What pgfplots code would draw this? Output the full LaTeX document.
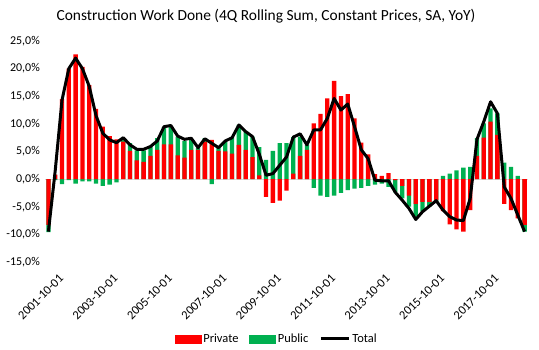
\documentclass[border=0pt]{standalone}
\usepackage{pgfplots}
\usepackage{pgfplotstable}
\pgfplotsset{compat=1.18}
\usepackage{fontspec}
\setmainfont{Carlito}
\definecolor{xred}{HTML}{FF0000}
\definecolor{xgreen}{HTML}{00B050}
\definecolor{xgrid}{HTML}{D9D9D9}
\pgfplotstableread{
i priv pub tot
0 -8.3 -1.3 -9.5
1 0.8 -0.2 1.5
2 14.5 -0.9 14.3
3 20.0 -0.2 20.0
4 22.6 -0.8 21.9
5 20.3 -0.4 20.0
6 17.0 -0.4 16.8
7 12.7 -0.8 11.5
8 9.5 -1.2 8.3
9 7.8 -1.0 7.1
10 7.2 -0.6 6.6
11 6.8 0.6 7.5
12 5.1 1.4 6.2
13 3.4 1.8 5.4
14 3.1 2.1 5.4
15 4.2 1.6 5.9
16 5.3 2.1 6.9
17 6.3 3.1 9.5
18 6.3 3.1 9.7
19 4.3 3.4 7.8
20 3.9 3.0 7.2
21 5.3 1.8 7.4
22 5.3 0.3 5.7
23 6.8 0.6 7.3
24 7.1 -0.9 6.5
25 5.1 0.5 5.7
26 5.0 1.8 6.9
27 4.6 3.0 7.5
28 6.2 3.6 9.8
29 5.3 3.3 8.6
30 4.0 3.7 7.7
31 0.7 5.1 4.5
32 -3.2 3.5 0.7
33 -4.3 5.1 1.0
34 -3.9 6.5 2.5
35 -2.1 6.5 4.0
36 1.0 6.6 7.6
37 4.2 3.5 8.2
38 5.3 0.9 6.2
39 10.1 -1.6 8.9
40 11.8 -3.0 8.9
41 14.6 -3.2 11.0
42 17.8 -3.0 14.6
43 15.0 -2.5 12.5
44 15.4 -2.0 13.6
45 11.0 -1.7 9.5
46 6.6 -1.6 5.3
47 4.5 -1.2 3.7
48 0.9 -1.0 -0.2
49 0.6 -0.8 -0.3
50 1.1 -1.4 -0.3
51 -0.2 -2.2 -2.4
52 -1.2 -2.3 -3.8
53 -3.0 -2.0 -5.3
54 -4.5 -2.3 -7.3
55 -4.1 -1.8 -5.9
56 -4.1 -0.9 -4.9
57 -3.8 -0.3 -3.9
58 -5.8 0.6 -5.6
59 -8.2 1.0 -6.8
60 -9.1 1.6 -7.4
61 -9.5 2.1 -7.5
62 -5.6 2.2 -3.5
63 4.2 3.2 7.2
64 7.5 2.6 10.4
65 10.4 2.4 14.0
66 8.0 3.9 11.9
67 -4.5 3.0 -1.4
68 -5.6 2.2 -3.5
69 -7.1 0.6 -6.5
70 -8.3 -1.2 -9.5
}\data
\begin{document}
\begin{tikzpicture}
\useasboundingbox (0,0) rectangle (539bp,350bp);
\node[font=\fontsize{15.5}{17}\selectfont] at (266bp,334bp) {Construction Work Done (4Q Rolling Sum, Constant Prices, SA, YoY)};
\begin{axis}[
  at={(45bp,88bp)}, anchor=south west,
  scale only axis, width=483bp, height=221bp,
  xmin=-0.5, xmax=70.5, ymin=-15, ymax=25,
  axis line style={draw=none},
  tick style={draw=none},
  ytick={-15,-10,...,25},
  yticklabel={\pgfmathprintnumber[fixed,fixed zerofill,precision=1,use comma]{\tick}\%},
  /pgf/number format/assume math mode=true,
  yticklabel style={font=\fontsize{12}{14}\selectfont, inner sep=0pt, xshift=-5bp},
  xtick={0,8,...,64},
  xticklabels={2001-10-01,2003-10-01,2005-10-01,2007-10-01,2009-10-01,2011-10-01,2013-10-01,2015-10-01,2017-10-01},
  xticklabel style={font=\fontsize{12.5}{14}\selectfont, rotate=45, anchor=north east, inner sep=0pt, yshift=-15bp, xshift=-1bp},
  extra y ticks={0}, extra y tick labels={},
  extra y tick style={grid=major, major grid style={xgrid, line width=0.9bp}},
  legend style={at={(0.48,-0.348)}, anchor=center, draw=none, legend columns=3,
    font=\fontsize{12.5}{14}\selectfont,
    /tikz/every even column/.append style={column sep=9bp},
    legend cell align=left},
]
\addplot[ybar, bar width=4.3bp, bar shift=0pt, fill=xgreen, draw=none, forget plot]
  table[x=i, y expr={ifthenelse(\thisrow{priv}*\thisrow{pub}>0, \thisrow{priv}+\thisrow{pub}, \thisrow{pub})}] {\data};
\addplot[ybar, bar width=4.3bp, bar shift=0pt, fill=xred, draw=none, forget plot]
  table[x=i, y=priv] {\data};
\addplot[black, line width=3bp, line join=round, no marks, forget plot]
  table[x=i, y=tot] {\data};
\addlegendimage{legend image code/.code={\fill[xred] (0bp,-3.8bp) rectangle (26bp,3.8bp);}}
\addlegendentry{Private}
\addlegendimage{legend image code/.code={\fill[xgreen] (0bp,-3.8bp) rectangle (26bp,3.8bp);}}
\addlegendentry{Public}
\addlegendimage{legend image code/.code={\draw[black, line width=3bp] (0bp,0bp) -- (28bp,0bp);}}
\addlegendentry{Total}
\end{axis}
\end{tikzpicture}
\end{document}
